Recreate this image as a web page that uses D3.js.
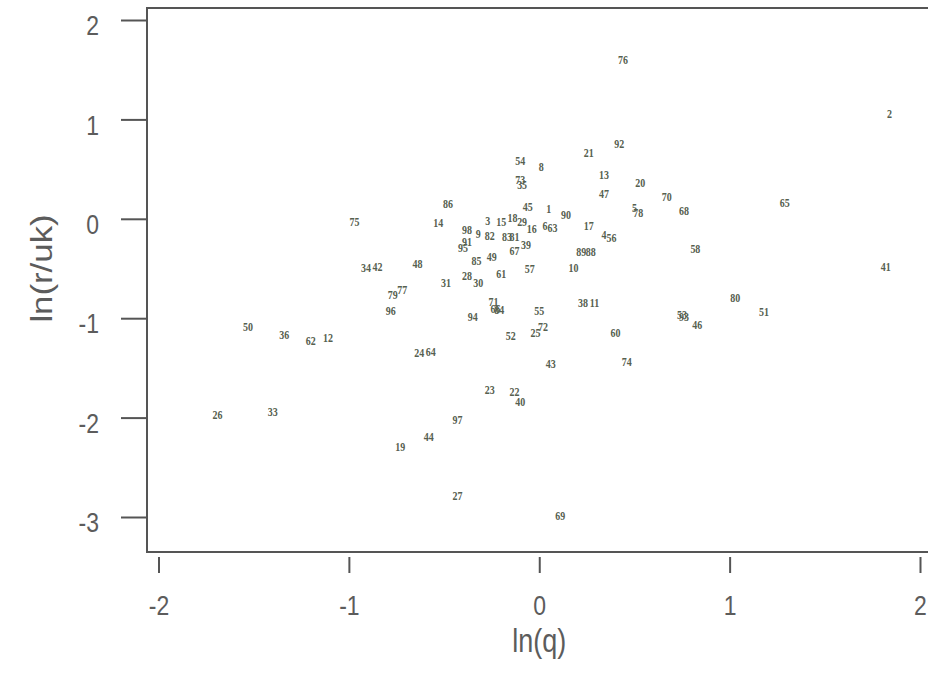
<!DOCTYPE html>
<html>
<head>
<meta charset="utf-8">
<script src="https://cdn.jsdelivr.net/npm/d3@7/dist/d3.min.js"></script>
<style>
  body { margin: 0; background: #ffffff; }
  svg { display: block; }
</style>
</head>
<body>
<svg id="chart" width="928" height="673"></svg>
<script>
// Case identifiers, plotted as text at (ln q, ln r/uk)
const ids = [76, 2, 92, 21, 54, 8, 13, 73, 35, 20, 47, 70, 45, 86, 65, 1, 90, 5, 78, 68,
  75, 14, 3, 15, 18, 29, 16, 6, 63, 17, 4, 56, 98, 9, 82, 83, 81, 91, 95, 58,
  85, 49, 67, 39, 89, 88, 34, 42, 48, 57, 10, 31, 28, 30, 61, 79, 77, 96, 71, 66,
  84, 38, 11, 55, 94, 93, 53, 46, 80, 51, 41, 50, 36, 62, 12, 52, 25, 72, 60, 24,
  64, 43, 74, 23, 22, 40, 26, 33, 97, 44, 19, 27, 69];

const lnQ = [0.44, 1.84, 0.42, 0.26, -0.10, 0.01, 0.34, -0.10, -0.09, 0.53, 0.34, 0.67, -0.06, -0.48, 1.29, 0.05, 0.14, 0.50, 0.52, 0.76,
  -0.97, -0.53, -0.27, -0.20, -0.14, -0.09, -0.04, 0.03, 0.07, 0.26, 0.34, 0.38, -0.38, -0.32, -0.26, -0.17, -0.13, -0.38, -0.40, 0.82,
  -0.33, -0.25, -0.13, -0.07, 0.22, 0.27, -0.91, -0.85, -0.64, -0.05, 0.18, -0.49, -0.38, -0.32, -0.20, -0.77, -0.72, -0.78, -0.24, -0.23,
  -0.21, 0.23, 0.29, 0.00, -0.35, 0.76, 0.75, 0.83, 1.03, 1.18, 1.82, -1.53, -1.34, -1.20, -1.11, -0.15, -0.02, 0.02, 0.40, -0.63,
  -0.57, 0.06, 0.46, -0.26, -0.13, -0.10, -1.69, -1.40, -0.43, -0.58, -0.73, -0.43, 0.11];

const lnRuk = [1.60, 1.06, 0.76, 0.67, 0.59, 0.53, 0.45, 0.39, 0.34, 0.36, 0.25, 0.22, 0.12, 0.15, 0.16, 0.10, 0.04, 0.11, 0.06, 0.08,
  -0.03, -0.04, -0.02, -0.03, 0.01, -0.03, -0.10, -0.07, -0.09, -0.07, -0.16, -0.19, -0.11, -0.15, -0.17, -0.18, -0.18, -0.23, -0.29, -0.30,
  -0.42, -0.38, -0.32, -0.26, -0.33, -0.33, -0.49, -0.48, -0.45, -0.50, -0.49, -0.64, -0.57, -0.64, -0.55, -0.76, -0.71, -0.92, -0.83, -0.90,
  -0.91, -0.84, -0.84, -0.92, -0.98, -0.98, -0.96, -1.06, -0.79, -0.93, -0.48, -1.08, -1.16, -1.23, -1.19, -1.17, -1.14, -1.08, -1.14, -1.35,
  -1.34, -1.46, -1.44, -1.72, -1.74, -1.84, -1.97, -1.94, -2.02, -2.19, -2.29, -2.78, -2.99];

const xTicks = [-2, -1, 0, 1, 2];
const yTicks = [2, 1, 0, -1, -2, -3];
const xTitle = "ln(q)";
const yTitle = "ln(r/uk)";

const svg = d3.select("#chart");
const W = 928;
const axisColor = "#555555";
const textColor = "#5c5c5c";
const labelColor = "#56604f";
const sans = "'Liberation Sans', Arial, sans-serif";
const stretch = 1.2;   // text is drawn slightly tall and narrow

const x = d3.scaleLinear().domain([-2, 2]).range([158.5, 920]);
const y = d3.scaleLinear().domain([2, -3]).range([20, 517]);

const frameLeft = 147, frameTop = 8, frameBottom = 552;

// open frame: left, top and bottom edges
svg.append("path")
  .attr("d", `M${W},${frameTop}H${frameLeft}V${frameBottom}H${W}`)
  .attr("fill", "none")
  .attr("stroke", axisColor)
  .attr("stroke-width", 2);

const tickText = d => String(d);   // plain hyphen for negatives

// y axis ticks and labels
const yAxis = svg.append("g")
  .attr("transform", `translate(${frameLeft},0)`)
  .call(d3.axisLeft(y).tickValues(yTicks).tickSize(26).tickPadding(22).tickFormat(tickText));
yAxis.select(".domain").remove();
yAxis.selectAll("line").attr("stroke", axisColor).attr("stroke-width", 2);
yAxis.selectAll("text")
  .attr("fill", textColor)
  .attr("font-family", sans)
  .attr("font-size", 23)
  .attr("dy", null)
  .attr("y", 0)
  .attr("dominant-baseline", "central")
  .attr("transform", `translate(0,5) scale(1,${stretch})`);

// x axis ticks sit just below the frame
const xAxis = svg.append("g")
  .attr("transform", `translate(0,${frameBottom + 5})`)
  .call(d3.axisBottom(x).tickValues(xTicks).tickSize(16).tickPadding(14).tickFormat(tickText));
xAxis.select(".domain").remove();
xAxis.selectAll("line").attr("stroke", axisColor).attr("stroke-width", 2);
xAxis.selectAll("text")
  .attr("fill", textColor)
  .attr("font-family", sans)
  .attr("font-size", 23)
  .attr("dy", null)
  .attr("y", 0)
  .attr("dominant-baseline", "central")
  .attr("transform", `translate(0,48) scale(1,${stretch})`);

// axis titles
svg.append("text")
  .attr("transform", `translate(${x(0)},652) scale(1,${stretch})`)
  .attr("text-anchor", "middle")
  .attr("fill", textColor)
  .attr("font-family", sans)
  .attr("font-size", 27)
  .text(xTitle);

svg.append("text")
  .attr("transform", `translate(52,${y(-0.5)}) rotate(-90) scale(${stretch},1)`)
  .attr("text-anchor", "middle")
  .attr("fill", textColor)
  .attr("font-family", sans)
  .attr("font-size", 29)
  .text(yTitle);

// case labels
const points = ids.map((id, i) => ({ id, q: lnQ[i], r: lnRuk[i] }));
svg.append("g")
  .selectAll("text")
  .data(points)
  .join("text")
  .attr("transform", d => `translate(${x(d.q)},${y(d.r)}) scale(0.95,${stretch})`)
  .attr("text-anchor", "middle")
  .attr("dominant-baseline", "central")
  .attr("fill", labelColor)
  .attr("font-family", "'Liberation Serif', 'Times New Roman', serif")
  .attr("font-weight", "bold")
  .attr("font-size", 10.5)
  .text(d => d.id);
</script>
</body>
</html>
